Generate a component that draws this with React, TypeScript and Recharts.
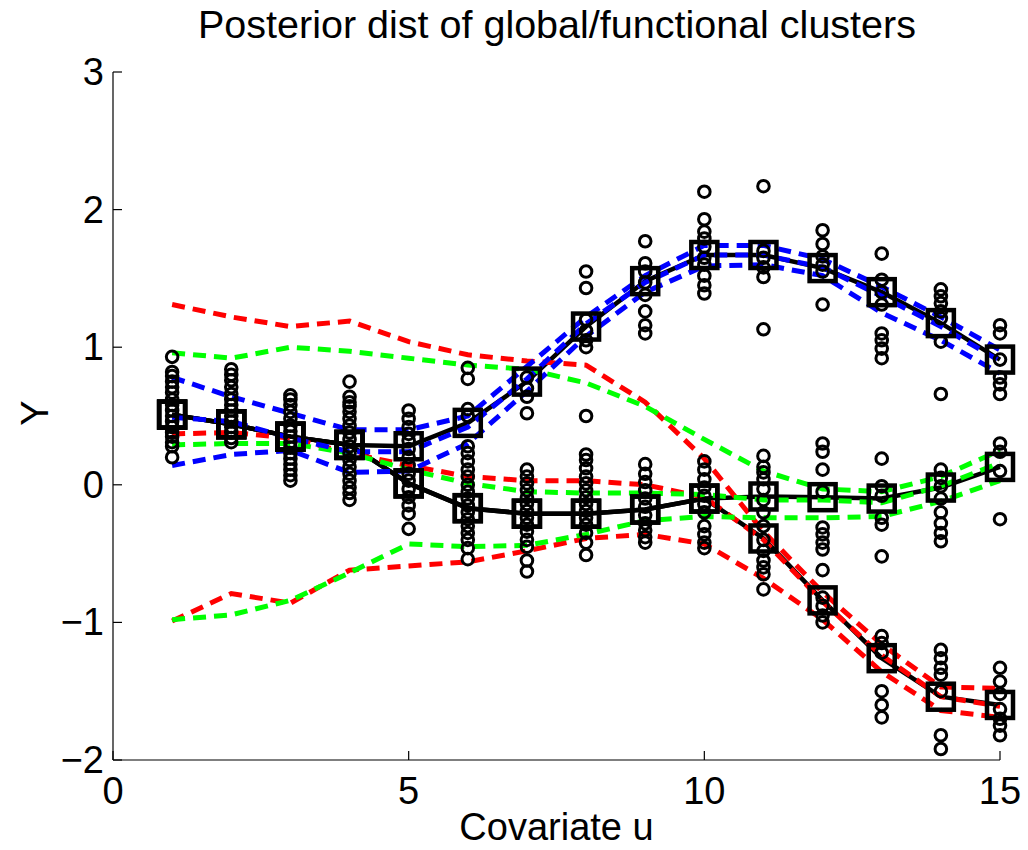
import React from 'react';
import { ComposedChart, Line, Scatter, XAxis, YAxis } from 'recharts';

// covariate values u = 1..15
const covariate = [1, 2, 3, 4, 5, 6, 7, 8, 9, 10, 11, 12, 13, 14, 15];

const xTicks = [0, 5, 10, 15];
const yTicks = [-2, -1, 0, 1, 2, 3];

// global clusters (black, square markers)
const globalA = [0.51, 0.44, 0.35, 0.29, 0.28, 0.45, 0.75, 1.15, 1.48, 1.67, 1.67, 1.575, 1.4, 1.175, 0.91];
const globalB = [0.51, 0.44, 0.35, 0.29, 0.01, -0.17, -0.21, -0.21, -0.18, -0.1, -0.085, -0.09, -0.1, -0.02, 0.13];
const globalC = [0.51, 0.44, 0.35, 0.29, 0.01, -0.17, -0.21, -0.21, -0.18, -0.1, -0.39, -0.84, -1.26, -1.54, -1.6];

// functional clusters: upper / middle / lower curves
const redUpper = [1.31, 1.22, 1.15, 1.19, 1.04, 0.945, 0.9, 0.87, 0.6, 0.19, -0.34, -0.78, -1.16, -1.47, -1.48];
const redMiddle = [0.37, 0.38, 0.34, 0.23, 0.14, 0.06, 0.03, 0.03, 0.0, -0.09, -0.4, -0.85, -1.24, -1.54, -1.61];
const redLower = [-0.99, -0.79, -0.86, -0.62, -0.59, -0.56, -0.48, -0.39, -0.36, -0.43, -0.68, -0.98, -1.36, -1.64, -1.69];

const greenUpper = [0.96, 0.92, 1.0, 0.97, 0.92, 0.87, 0.84, 0.74, 0.57, 0.33, 0.1, -0.03, -0.05, 0.06, 0.25];
const greenMiddle = [0.29, 0.3, 0.3, 0.23, 0.11, 0.01, -0.05, -0.06, -0.06, -0.07, -0.11, -0.11, -0.13, -0.01, 0.16];
const greenLower = [-0.98, -0.945, -0.84, -0.64, -0.43, -0.45, -0.44, -0.36, -0.26, -0.23, -0.24, -0.24, -0.23, -0.12, 0.03];

const blueUpper = [0.78, 0.64, 0.52, 0.4, 0.4, 0.5, 0.86, 1.22, 1.52, 1.74, 1.74, 1.64, 1.44, 1.22, 0.98];
const blueMiddle = [0.49, 0.46, 0.34, 0.24, 0.24, 0.42, 0.77, 1.17, 1.47, 1.67, 1.67, 1.58, 1.37, 1.15, 0.9];
const blueLower = [0.14, 0.22, 0.25, 0.09, 0.1, 0.3, 0.68, 1.08, 1.4, 1.59, 1.6, 1.52, 1.25, 1.05, 0.81];

// observed Y at each covariate value
const observations: number[][] = [
  [0.93, 0.82, 0.79, 0.75, 0.71, 0.67, 0.62, 0.58, 0.54, 0.5, 0.46, 0.42, 0.38, 0.35, 0.31, 0.28, 0.2],
  [0.84, 0.8, 0.76, 0.71, 0.66, 0.62, 0.58, 0.54, 0.5, 0.46, 0.42, 0.38, 0.34, 0.31],
  [0.65, 0.62, 0.58, 0.53, 0.48, 0.43, 0.39, 0.35, 0.31, 0.27, 0.23, 0.19, 0.15, 0.11, 0.07, 0.03],
  [0.75, 0.64, 0.6, 0.57, 0.53, 0.48, 0.43, 0.38, 0.33, 0.28, 0.23, 0.18, 0.13, 0.08, 0.03, -0.02, -0.06, -0.11],
  [0.54, 0.48, 0.42, 0.37, 0.32, 0.26, 0.2, 0.14, 0.08, 0.03, -0.03, -0.09, -0.15, -0.21, -0.32],
  [0.85, 0.77, 0.55, 0.5, 0.28, 0.23, 0.17, 0.11, 0.06, 0.0, -0.05, -0.1, -0.15, -0.2, -0.25, -0.3, -0.35, -0.4, -0.46, -0.54],
  [0.78, 0.7, 0.64, 0.52, 0.11, 0.06, 0.01, -0.04, -0.09, -0.14, -0.19, -0.24, -0.29, -0.34, -0.4, -0.45, -0.55, -0.63],
  [1.55, 1.43, 1.2, 1.12, 1.05, 1.0, 0.5, 0.22, 0.18, 0.12, 0.06, 0.01, -0.04, -0.09, -0.14, -0.19, -0.24, -0.29, -0.35, -0.42, -0.51],
  [1.77, 1.61, 1.55, 1.47, 1.38, 1.26, 1.16, 1.1, 0.15, 0.08, 0.02, -0.04, -0.1, -0.16, -0.22, -0.28, -0.33, -0.38, -0.42],
  [2.13, 1.93, 1.84, 1.79, 1.73, 1.65, 1.6, 1.52, 1.45, 1.39, 0.17, 0.11, 0.04, -0.02, -0.08, -0.14, -0.2, -0.3, -0.36, -0.42, -0.46],
  [2.17, 1.7, 1.65, 1.58, 1.51, 1.13, 0.21, 0.13, 0.09, 0.04, -0.03, -0.11, -0.2, -0.3, -0.4, -0.48, -0.55, -0.6, -0.65, -0.76],
  [1.85, 1.75, 1.66, 1.6, 1.55, 1.31, 0.3, 0.24, 0.11, -0.05, -0.31, -0.36, -0.42, -0.47, -0.62, -0.82, -0.88, -0.95, -1.0],
  [1.68, 1.49, 1.4, 1.31, 1.1, 1.05, 0.99, 0.92, 0.19, -0.01, -0.08, -0.24, -0.29, -0.52, -1.1, -1.15, -1.22, -1.5, -1.6, -1.69],
  [1.42, 1.37, 1.32, 1.26, 1.21, 1.04, 0.66, 0.11, 0.05, -0.01, -0.1, -0.2, -0.28, -0.35, -0.41, -1.2, -1.26, -1.33, -1.38, -1.5, -1.82, -1.92],
  [1.16, 1.1, 0.91, 0.78, 0.73, 0.66, 0.3, 0.24, 0.1, -0.25, -1.33, -1.43, -1.52, -1.63, -1.7, -1.75, -1.82],
];

const FONT = '"Liberation Sans", Arial, Helvetica, sans-serif';
const FONT_SIZE = 38;
const TICK_LEN = 9;

const toPoints = (vals: number[]) => vals.map((y, i) => ({ u: covariate[i], y }));
const scatterData = observations.flatMap((col, i) => col.map((y) => ({ u: covariate[i], y })));

const fmt = (v: number) => (v < 0 ? `\u2212${Math.abs(v)}` : `${v}`);

// MATLAB style ticks: pointing into the plot box
const BottomTick = ({ x, y, payload }: any) => (
  <g>
    <line x1={x} y1={y} x2={x} y2={y - TICK_LEN} stroke="#000" strokeWidth={1.2} />
    <text x={x} y={y + 44} textAnchor="middle" fontFamily={FONT} fontSize={FONT_SIZE} fill="#000">
      {fmt(payload.value)}
    </text>
  </g>
);

const LeftTick = ({ x, y, payload }: any) => (
  <g>
    <line x1={x} y1={y} x2={x + TICK_LEN} y2={y} stroke="#000" strokeWidth={1.2} />
    <text x={x - 9} y={y + 13} textAnchor="end" fontFamily={FONT} fontSize={FONT_SIZE} fill="#000">
      {fmt(payload.value)}
    </text>
  </g>
);

const TopTick = ({ x, y }: any) => (
  <line x1={x} y1={y} x2={x} y2={y + TICK_LEN} stroke="#000" strokeWidth={1.2} />
);

const RightTick = ({ x, y }: any) => (
  <line x1={x} y1={y} x2={x - TICK_LEN} y2={y} stroke="#000" strokeWidth={1.2} />
);

const squareDot = (p: any) => (
  <rect
    key={`sq-${p.index}`}
    x={p.cx - 13}
    y={p.cy - 13}
    width={26}
    height={26}
    fill="none"
    stroke="#000"
    strokeWidth={4.5}
  />
);

const circleShape = (p: any) => (
  <circle cx={p.cx} cy={p.cy} r={5.8} fill="none" stroke="#000" strokeWidth={3} />
);

const dashed = [
  { name: 'red-upper', vals: redUpper, color: '#ff0000' },
  { name: 'red-middle', vals: redMiddle, color: '#ff0000' },
  { name: 'red-lower', vals: redLower, color: '#ff0000' },
  { name: 'green-upper', vals: greenUpper, color: '#00ff00' },
  { name: 'green-middle', vals: greenMiddle, color: '#00ff00' },
  { name: 'green-lower', vals: greenLower, color: '#00ff00' },
  { name: 'blue-upper', vals: blueUpper, color: '#0000ff' },
  { name: 'blue-middle', vals: blueMiddle, color: '#0000ff' },
  { name: 'blue-lower', vals: blueLower, color: '#0000ff' },
];

const globals = [
  { name: 'global-A', vals: globalA },
  { name: 'global-B', vals: globalB },
  { name: 'global-C', vals: globalC },
];

export default function App() {
  return (
    <div
      style={{
        position: 'absolute',
        left: 0,
        top: 0,
        width: 1028,
        height: 850,
        background: '#fff',
        fontFamily: FONT,
        color: '#000',
      }}
    >
      <ComposedChart width={1028} height={850} margin={{ top: 72, right: 28, bottom: 0, left: 0 }}>
        <XAxis
          xAxisId="main"
          dataKey="u"
          type="number"
          domain={[0, 15]}
          ticks={xTicks}
          interval={0}
          height={90}
          tickLine={false}
          tickSize={0}
          tickMargin={0}
          axisLine={{ stroke: '#000', strokeWidth: 1.2 }}
          tick={<BottomTick />}
        />
        <XAxis
          xAxisId="top"
          orientation="top"
          type="number"
          domain={[0, 15]}
          ticks={xTicks}
          interval={0}
          height={0}
          tickLine={false}
          tickSize={0}
          tickMargin={0}
          axisLine={{ stroke: '#000', strokeWidth: 1.2 }}
          tick={<TopTick />}
        />
        <YAxis
          yAxisId="main"
          type="number"
          domain={[-2, 3]}
          ticks={yTicks}
          interval={0}
          width={113}
          tickLine={false}
          tickSize={0}
          tickMargin={0}
          axisLine={{ stroke: '#000', strokeWidth: 1.2 }}
          tick={<LeftTick />}
        />
        <YAxis
          yAxisId="right"
          orientation="right"
          type="number"
          domain={[-2, 3]}
          ticks={yTicks}
          interval={0}
          width={0}
          tickLine={false}
          tickSize={0}
          tickMargin={0}
          axisLine={{ stroke: '#000', strokeWidth: 1.2 }}
          tick={<RightTick />}
        />

        <Scatter
          xAxisId="main"
          yAxisId="main"
          data={scatterData}
          dataKey="y"
          shape={circleShape}
          isAnimationActive={false}
        />

        {globals.map((g) => (
          <Line
            key={g.name}
            xAxisId="main"
            yAxisId="main"
            data={toPoints(g.vals)}
            dataKey="y"
            type="linear"
            stroke="#000"
            strokeWidth={4.5}
            dot={squareDot}
            activeDot={false}
            isAnimationActive={false}
          />
        ))}

        {dashed.map((d) => (
          <Line
            key={d.name}
            xAxisId="main"
            yAxisId="main"
            data={toPoints(d.vals)}
            dataKey="y"
            type="linear"
            stroke={d.color}
            strokeWidth={5}
            strokeDasharray="13 8"
            dot={false}
            activeDot={false}
            isAnimationActive={false}
          />
        ))}
      </ComposedChart>

      <div
        style={{
          position: 'absolute',
          left: 0,
          top: 5,
          width: 1028,
          paddingLeft: 86,
          boxSizing: 'border-box',
          textAlign: 'center',
          fontSize: 39.5,
          lineHeight: '38px',
          whiteSpace: 'nowrap',
        }}
      >
        Posterior dist of global/functional clusters
      </div>
      <div
        style={{
          position: 'absolute',
          left: 113,
          top: 808,
          width: 887,
          textAlign: 'center',
          fontSize: FONT_SIZE,
          lineHeight: '38px',
        }}
      >
        Covariate u
      </div>
      <div
        style={{
          position: 'absolute',
          left: -15,
          top: 394,
          width: 100,
          textAlign: 'center',
          fontSize: FONT_SIZE,
          lineHeight: '38px',
          transform: 'rotate(-90deg)',
        }}
      >
        Y
      </div>
    </div>
  );
}
